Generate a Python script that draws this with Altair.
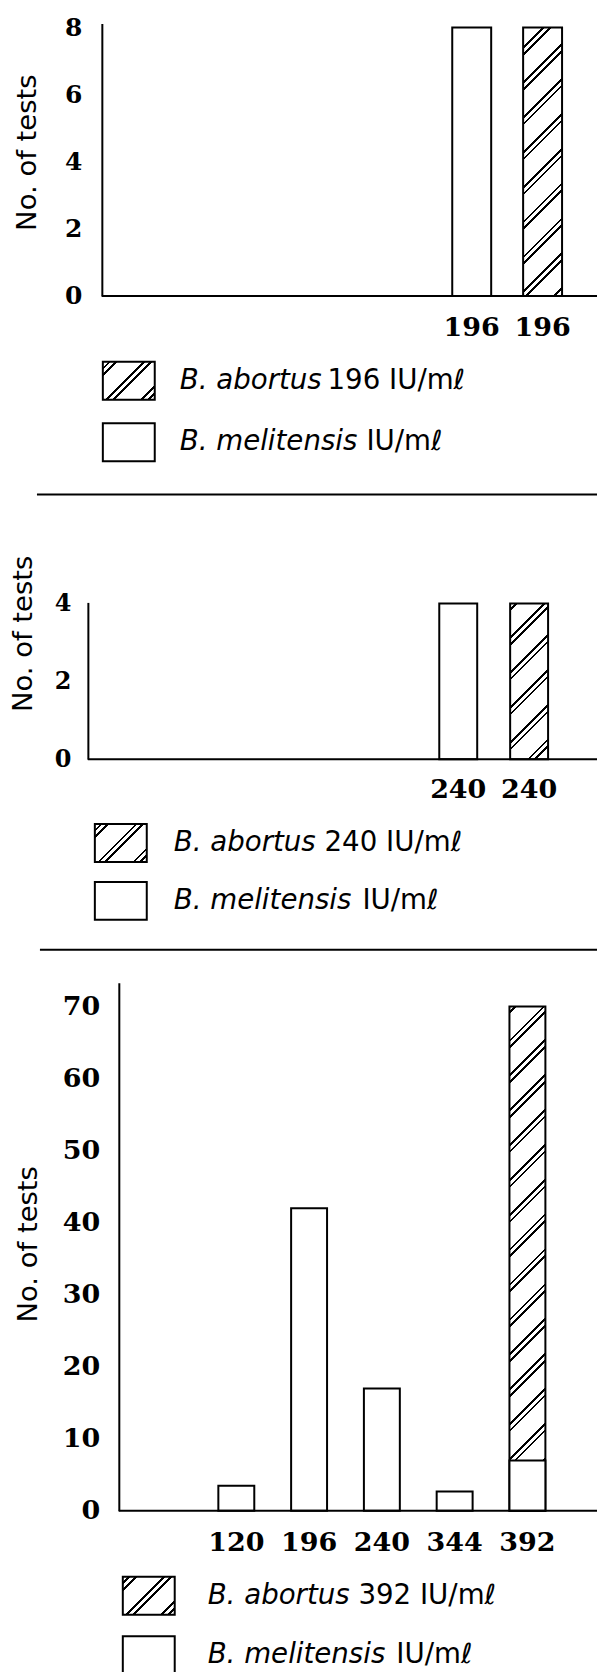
import math
import altair as alt
import pandas as pd

# ------------------------------------------------------------------ data
p1_titres = ["196", "196"]
p1_series = ["B. melitensis", "B. abortus"]
p1_counts = [8, 8]

p2_titres = ["240", "240"]
p2_series = ["B. melitensis", "B. abortus"]
p2_counts = [4, 4]

p3_titres = ["120", "196", "240", "344", "392"]
p3_melitensis = [3.5, 42, 17, 2.7, 7]
p3_abortus_titres = ["392"]
p3_abortus = [70]

p1_ticks = [0, 2, 4, 6, 8]
p2_ticks = [0, 2, 4]
p3_ticks = [0, 10, 20, 30, 40, 50, 60, 70]

y_title = "No. of tests"
legend_series = ["B. abortus", "B. melitensis"]
legend_italic = ["B. abortus", "B. melitensis"]
legend_normal_1 = ["196 IU/mℓ", "IU/mℓ"]
legend_normal_2 = ["240 IU/mℓ", "IU/mℓ"]
legend_normal_3 = ["392 IU/mℓ", "IU/mℓ"]

# ------------------------------------------------------------------ style
W = 590
SANS = "DejaVu Sans"
SERIF = "DejaVu Serif"
LEG_FS = 27.7
BOX_W, BOX_H = 52, 38
BOX_SHAPE = "M-1,-%.4fH1V%.4fH-1Z" % (BOX_H / BOX_W, BOX_H / BOX_W)


def hatch(w, h, phase, period=24.7, line=1.9, gap=2.8):
    """Diagonal double-line hatching as a hard-stop linear gradient."""
    D = (w + h) / math.sqrt(2)
    k = (w + h) / (w * w + h * h)
    stops = [{"offset": 0, "color": "white"}]
    c = phase
    while c - gap / 2 - line < D:
        for a, b in ((c - gap / 2 - line, c - gap / 2), (c + gap / 2, c + gap / 2 + line)):
            a = max(a, 0.0)
            b = min(b, D)
            if b > a:
                for off, col in ((a, "white"), (a, "black"), (b, "black"), (b, "white")):
                    stops.append({"offset": round(off / D, 5), "color": col})
        c += period
    stops.append({"offset": 1, "color": "white"})
    return {"gradient": "linear", "x1": 0, "y1": 0,
            "x2": round(w * k, 5), "y2": round(h * k, 5), "stops": stops}


def band_scale(domain, step, bw, first_start):
    n = len(domain)
    pi = 1 - bw / step
    return alt.Scale(domain=domain, paddingInner=pi, paddingOuter=0,
                     range=[first_start, first_start + step * (n - pi)], round=False)


def panel(df, xscale, bw, y_max, height, ticks, axis_x,
          ylab_fs, xlab_fs, ylab_pad, xlab_pad, title_x, title_y,
          hatch_phase, label_expr=None):
    xkw = dict(title=None, domain=False, ticks=False, tickSize=0, labelAngle=0,
               labelFont=SERIF, labelFontWeight="bold", labelFontSize=xlab_fs,
               labelColor="black", labelPadding=xlab_pad, labelOverlap=False)
    if label_expr:
        xkw["labelExpr"] = label_expr
    x_axis = alt.Axis(**xkw)
    y_axis = alt.Axis(values=ticks, offset=-axis_x, grid=False,
                      domainColor="black", domainWidth=2, ticks=False, tickSize=0,
                      labelFont=SERIF, labelFontWeight="bold", labelFontSize=ylab_fs,
                      labelColor="black", labelPadding=ylab_pad, labelFlush=False,
                      labelOverlap=False, title=y_title, titleFont=SANS,
                      titleFontWeight="normal", titleFontSize=27.5, titleColor="black",
                      titleAngle=270, titleAlign="center", titleBaseline="alphabetic",
                      titleX=title_x, titleY=title_y)
    yscale = alt.Scale(domain=[0, y_max], nice=False, zero=True)
    xenc = alt.X("slot:N", scale=xscale, axis=x_axis)
    yenc = alt.Y("count:Q", scale=yscale, axis=y_axis)

    ab_val = float(df.loc[df.series == "B. abortus", "count"].max())
    fill = hatch(bw, ab_val * height / y_max, hatch_phase)

    base = alt.Chart(df)
    hatched = base.transform_filter(alt.datum.series == "B. abortus").mark_bar(
        fill=fill, stroke="black", strokeWidth=2).encode(x=xenc, y=yenc)
    white = base.transform_filter(alt.datum.series == "B. melitensis").mark_bar(
        fill="white", stroke="black", strokeWidth=2).encode(x=xenc, y=yenc)
    baseline = alt.Chart(pd.DataFrame({"v": [0]})).mark_rule(
        color="black", strokeWidth=2).encode(
        x=alt.value(axis_x), x2=alt.value(W), y=alt.value(height))
    return alt.layer(hatched, white, baseline).properties(width=W, height=height)


def legend_cell(height, normal, box_x, text_x, rows_y, dxs, divider=None):
    df = pd.DataFrame({"series": legend_series, "italic": legend_italic,
                       "normal": normal})
    yenc = alt.Y("series:N", axis=None,
                 scale=alt.Scale(type="point", domain=legend_series,
                                 range=rows_y, padding=0))
    base = alt.Chart(df)
    box_h = base.transform_filter(alt.datum.series == "B. abortus").mark_point(
        shape=BOX_SHAPE, size=BOX_W * BOX_W, filled=True, opacity=1,
        fill=hatch(BOX_W, BOX_H, (BOX_W + BOX_H) / math.sqrt(2) / 2 - 24.7),
        stroke="black", strokeWidth=2).encode(x=alt.value(box_x), y=yenc)
    box_w = base.transform_filter(alt.datum.series == "B. melitensis").mark_point(
        shape=BOX_SHAPE, size=BOX_W * BOX_W, filled=True, opacity=1,
        fill="white", stroke="black", strokeWidth=2).encode(x=alt.value(box_x), y=yenc)
    txt = dict(font=SANS, fontSize=LEG_FS, align="left", baseline="middle",
               color="black")
    ital = base.mark_text(fontStyle="italic", **txt).encode(
        x=alt.value(text_x), y=yenc, text="italic:N")
    n1 = base.transform_filter(alt.datum.series == "B. abortus").mark_text(
        dx=dxs[0], **txt).encode(x=alt.value(text_x), y=yenc, text="normal:N")
    n2 = base.transform_filter(alt.datum.series == "B. melitensis").mark_text(
        dx=dxs[1], **txt).encode(x=alt.value(text_x), y=yenc, text="normal:N")
    layers = [box_h, box_w, ital, n1, n2]
    if divider:
        layers.append(alt.Chart(pd.DataFrame({"v": [0]})).mark_rule(
            color="black", strokeWidth=2).encode(
            x=alt.value(divider[0]), x2=alt.value(W), y=alt.value(divider[1])))
    return alt.layer(*layers).properties(width=W, height=height)


# ------------------------------------------------------------------ tables
def pair_df(titres, series, counts):
    df = pd.DataFrame({"titre": titres, "series": series, "count": counts})
    df["slot"] = df["titre"] + "|" + df["series"]
    return df


d1 = pair_df(p1_titres, p1_series, p1_counts)
d2 = pair_df(p2_titres, p2_series, p2_counts)
d3 = pd.concat([
    pd.DataFrame({"slot": p3_titres, "series": "B. melitensis", "count": p3_melitensis}),
    pd.DataFrame({"slot": p3_abortus_titres, "series": "B. abortus", "count": p3_abortus}),
], ignore_index=True)

split_expr = "split(datum.label, '|')[0]"

spacer = alt.Chart(pd.DataFrame({"v": [0]})).mark_rule(opacity=0).encode(
    y=alt.value(0)).properties(width=W, height=14)

P1 = panel(d1, band_scale(list(d1.slot), 71, 39, 445), 39,
           8.12, 273, p1_ticks, 94, 25, 27, 20, 18.3, -66, 129, 17, split_expr)
L1 = legend_cell(307, legend_normal_1, 121, 172, [85, 146.5], [148, 187], (29, 199))
P2 = panel(d2, band_scale(list(d2.slot), 71, 38, 432), 38,
           4.03, 157, p2_ticks, 80, 24, 27, 17, 17.3, -56.7, 31, 2, split_expr)
L2 = legend_cell(224, legend_normal_2, 113, 166, [84, 142], [151, 189], (32, 191))
P3 = panel(d3, band_scale(p3_titres, 72.9, 36, 210.7), 36,
           73.3, 529, p3_ticks, 111, 27, 27, 19, 18.3, -82.5, 261.5, 2)
L3 = legend_cell(150, legend_normal_3, 141, 200, [85, 144.5], [151, 189])

chart = alt.vconcat(
    spacer, P1, L1, P2, L2, P3, L3, spacing=0, bounds="flush"
).properties(
    padding={"left": 0, "top": 0, "right": 0, "bottom": 0},
    background="white",
).configure_view(strokeWidth=0, stroke="transparent")

chart.save("out.html", embed_options={"renderer": "svg", "actions": False})
